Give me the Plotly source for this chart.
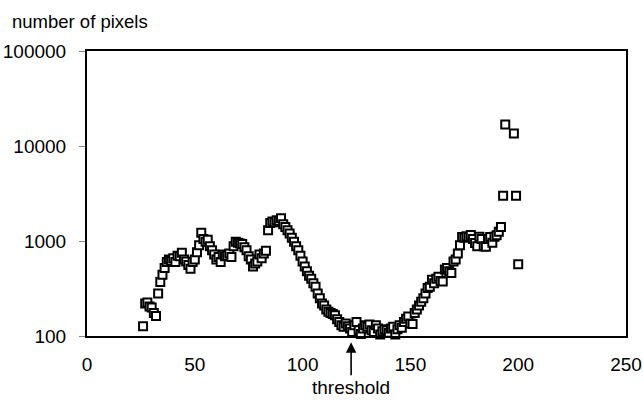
import plotly.graph_objects as go

# gray level (x) and pixel counts (y)
gray_level = list(range(26, 195)) + [198, 199, 200]
pixel_count = [
    127, 220, 225, 205, 200, 175, 162, 280, 370, 440,   # 26-35
    520, 600, 640, 620, 660, 600, 700, 690, 750, 640,   # 36-45
    610, 560, 510, 600, 640, 760, 900, 1220, 1050, 980, # 46-55
    1030, 880, 800, 720, 640, 680, 600, 720, 690, 700,  # 56-65
    740, 680, 880, 980, 960, 940, 930, 860, 800, 690,   # 66-75
    640, 540, 580, 610, 720, 660, 740, 790, 1300, 1550, # 76-85
    1600, 1580, 1650, 1620, 1740, 1500, 1400, 1300, 1200, 1080,  # 86-95
    980, 880, 800, 700, 610, 540, 480, 430, 400, 360,   # 96-105
    330, 280, 250, 220, 210, 190, 180, 175, 170, 165,   # 106-115
    150, 140, 130, 125, 135, 127, 120, 110, 130, 140,   # 116-125
    115, 105, 120, 130, 125, 132, 115, 110, 130, 120,   # 126-135
    104, 112, 118, 115, 108, 120, 125, 104, 118, 130,   # 136-145
    122, 140, 152, 160, 135, 134, 175, 190, 210, 230,   # 146-155
    250, 280, 320, 330, 390, 360, 400, 420, 380, 375,   # 156-165
    500, 520, 480, 460, 610, 640, 740, 900, 1100, 1080, # 166-175
    1120, 1100, 1160, 1050, 950, 880, 1110, 1050, 880, 870,  # 176-185
    1050, 1100, 960, 1110, 1150, 1250, 1400, 3000, 16800,     # 186-194
    13500, 3000, 570,                                   # 198-200
]

x_ticks = [0, 50, 100, 150, 200, 250]
y_ticks = [100, 1000, 10000, 100000]
threshold_x = 122.5

FONT = "Liberation Sans, Arial, sans-serif"

fig = go.Figure()
fig.add_trace(go.Scatter(
    x=gray_level, y=pixel_count, mode="markers",
    marker=dict(symbol="square", size=8, color="white",
                line=dict(color="black", width=2)),
    showlegend=False, cliponaxis=False,
))

fig.update_layout(
    width=643, height=400,
    margin=dict(l=87, r=17, t=51, b=64, autoexpand=False),
    plot_bgcolor="white", paper_bgcolor="white",
    font=dict(family=FONT, size=19, color="black"),
    xaxis=dict(range=[0, 250], tickvals=x_ticks, ticks="",
               showline=True, linecolor="black", linewidth=2, mirror=True,
               showgrid=False, zeroline=False, ticklabelstandoff=10,
               automargin=False, tickfont=dict(size=19)),
    yaxis=dict(type="log", range=[2, 5], tickvals=y_ticks,
               ticktext=[str(v) for v in y_ticks],
               ticks="outside", ticklen=6, tickcolor="#888", tickwidth=1,
               showline=True, linecolor="black", linewidth=2, mirror=True,
               showgrid=False, zeroline=False, ticklabelstandoff=9,
               automargin=False, tickfont=dict(size=19)),
    annotations=[
        dict(text="number of pixels", xref="paper", yref="paper",
             x=-0.143, y=1.0, xanchor="left", yanchor="bottom", yshift=17,
             showarrow=False, font=dict(size=18.5)),
        dict(text="threshold", xref="x", yref="paper",
             x=threshold_x, y=-0.022, ax=0, ay=45,
             showarrow=True, arrowhead=2, arrowsize=1.3, arrowwidth=1.6,
             arrowcolor="black", font=dict(size=19)),
    ],
)

# remove the default page margin so the 643x400 figure fills the window
fig.write_html(
    "out.html",
    config={"displayModeBar": False},
    post_script="document.body.style.margin='0';document.body.style.overflow='hidden';",
)
